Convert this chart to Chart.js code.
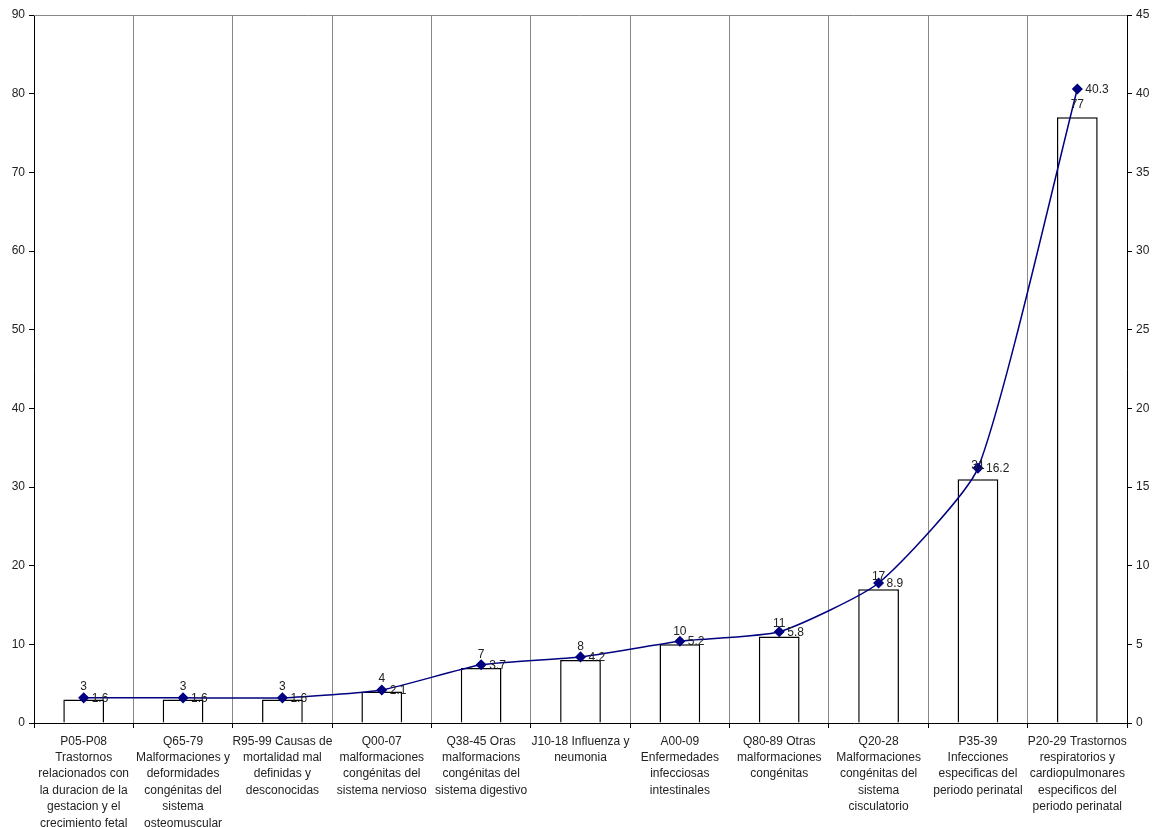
<!DOCTYPE html>
<html>
<head>
<meta charset="utf-8">
<script src="https://cdn.jsdelivr.net/npm/chart.js@4.4.0/dist/chart.umd.min.js"></script>
<style>
  html, body { margin: 0; padding: 0; background: #fff; }
  #wrap { width: 1157px; height: 827px; }
</style>
</head>
<body>
<div id="wrap"><canvas id="myChart" width="1157" height="827"></canvas></div>
<script>
// datos
var categorias = [
    ['P05-P08', 'Trastornos', 'relacionados con', 'la duracion de la', 'gestacion y el', 'crecimiento fetal'],
    ['Q65-79', 'Malformaciones y', 'deformidades', 'congénitas del', 'sistema', 'osteomuscular'],
    ['R95-99 Causas de', 'mortalidad mal', 'definidas y', 'desconocidas'],
    ['Q00-07', 'malformaciones', 'congénitas del', 'sistema nervioso'],
    ['Q38-45 Oras', 'malformacions', 'congénitas del', 'sistema digestivo'],
    ['J10-18 Influenza y', 'neumonia'],
    ['A00-09', 'Enfermedades', 'infecciosas', 'intestinales'],
    ['Q80-89 Otras', 'malformaciones', 'congénitas'],
    ['Q20-28', 'Malformaciones', 'congénitas del', 'sistema', 'cisculatorio'],
    ['P35-39', 'Infecciones', 'especificas del', 'periodo perinatal'],
    ['P20-29 Trastornos', 'respiratorios y', 'cardiopulmonares', 'especificos del', 'periodo perinatal']
];
var casos = [3, 3, 3, 4, 7, 8, 10, 11, 17, 31, 77];
var porcentaje = [1.6, 1.6, 1.6, 2.1, 3.7, 4.2, 5.2, 5.8, 8.9, 16.2, 40.3];
var ticksIzq = { max: 90, paso: 10 };
var ticksDer = { max: 45, paso: 5 };

var fuente = { family: "'Liberation Sans', Arial, sans-serif", size: 12, lineHeight: 1.37 };

// etiquetas de valores y borde superior
var etiquetas = {
    id: 'etiquetas',
    afterDatasetsDraw(chart) {
        var ctx = chart.ctx;
        ctx.save();
        ctx.font = "12px 'Liberation Sans', Arial, sans-serif";
        ctx.fillStyle = '#222';
        // barras = dataset 1, linea = dataset 0
        chart.getDatasetMeta(1).data.forEach(function (bar, i) {
            ctx.textAlign = 'center';
            ctx.textBaseline = 'bottom';
            ctx.fillText(casos[i], bar.x, bar.y - 7);
        });
        chart.getDatasetMeta(0).data.forEach(function (pt, i) {
            ctx.textAlign = 'left';
            ctx.textBaseline = 'middle';
            ctx.fillText(porcentaje[i], pt.x + 8, pt.y + 1);
        });
        var a = chart.chartArea;
        ctx.strokeStyle = '#888';
        ctx.lineWidth = 1;
        ctx.beginPath();
        ctx.moveTo(a.left, a.top + 0.5);
        ctx.lineTo(a.right, a.top + 0.5);
        ctx.stroke();
        ctx.restore();
    }
};

var config = {
    data: {
        labels: categorias,
        datasets: [{
            type: 'line',
            label: '%',
            data: porcentaje,
            yAxisID: 'y1',
            borderColor: '#000080',
            backgroundColor: '#000080',
            borderWidth: 1.5,
            pointStyle: 'rectRot',
            pointRadius: 4.5,
            pointHoverRadius: 4.5,
            tension: 0.18,
            order: 0
        }, {
            type: 'bar',
            label: 'Casos',
            data: casos,
            yAxisID: 'y',
            backgroundColor: '#ffffff',
            borderColor: '#000000',
            borderWidth: 1.5,
            barPercentage: 0.41,
            categoryPercentage: 1,
            order: 1
        }]
    },
    options: {
        responsive: false,
        animation: false,
        layout: { padding: { top: 15, left: 0, right: 0, bottom: 0 } },
        plugins: {
            legend: { display: false },
            tooltip: { enabled: false }
        },
        scales: {
            x: {
                offset: true,
                grid: { offset: true, color: '#888', drawTicks: true, tickLength: 5, tickColor: '#000' },
                border: { color: '#000', width: 1 },
                ticks: { color: '#222', font: fuente, maxRotation: 0, autoSkip: false, padding: 5 },
                afterFit: function (s) { s.height = 104; }
            },
            y: {
                position: 'left',
                min: 0, max: ticksIzq.max,
                grid: { display: true, drawOnChartArea: false, tickLength: 5, color: '#000' },
                border: { color: '#000', width: 1 },
                ticks: { stepSize: ticksIzq.paso, color: '#222', font: fuente, padding: 4 },
                afterFit: function (s) { s.width = 34; }
            },
            y1: {
                position: 'right',
                min: 0, max: ticksDer.max,
                grid: { display: true, drawOnChartArea: false, tickLength: 5, color: '#000' },
                border: { color: '#000', width: 1 },
                ticks: { stepSize: ticksDer.paso, color: '#222', font: fuente, padding: 4 },
                afterFit: function (s) { s.width = 30; }
            }
        }
    },
    plugins: [etiquetas]
};

var myChart = new Chart(document.getElementById('myChart'), config);
</script>
</body>
</html>
